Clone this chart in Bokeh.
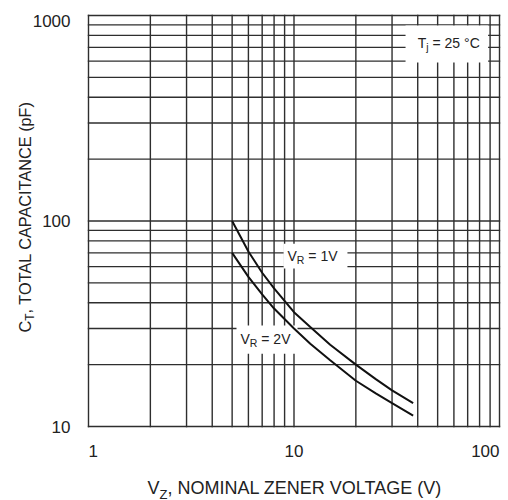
import math
from bokeh.plotting import figure
from bokeh.models import Label, BoxAnnotation, Range1d
from bokeh.embed import file_html
from bokeh.resources import INLINE

# ---------------- data ----------------
vz = [5, 6, 7, 8, 10, 12, 15, 20, 25, 30, 38]                       # V_Z (V)
ct_vr1 = [100, 71, 56, 47, 36, 30.5, 25, 20, 17, 15, 13]             # C_T (pF) at V_R = 1V
ct_vr2 = [70, 53.5, 44, 37.5, 30, 25.3, 21, 16.7, 14.5, 13, 11.3]    # C_T (pF) at V_R = 2V

x_major = [1, 10, 100]
x_minor = [2, 3, 4, 5, 6, 7, 8, 9, 20, 30, 40, 50, 60, 70, 80, 90]
x_tick_labels = ["1", "10", "100"]
y_major = [10, 100, 1000]
y_minor = [20, 30, 40, 50, 60, 70, 80, 90, 200, 300, 400, 500, 600, 700, 800, 900]
y_tick_labels = ["10", "100", "1000"]

# ---------------- layout / style ----------------
CW, CH = 508, 500                  # canvas
FL, FR, FT, FB = 88, 499, 15, 426  # plotting box inside the canvas (pixels)
FONT = "Liberation Sans"
TXT = "#222222"
GRID = "#2e2e2e"

# Arial / Liberation Sans advance widths (per 1000 em)
W = {' ': 278, ',': 278, '(': 333, ')': 333, '=': 584, '°': 400,
     'A': 667, 'C': 722, 'E': 667, 'F': 611, 'G': 778, 'I': 278, 'L': 556,
     'M': 833, 'N': 722, 'O': 778, 'P': 667, 'R': 722, 'T': 611, 'V': 667,
     'Z': 611, 'p': 556, 'j': 222}
for d in "0123456789":
    W[d] = 556


def tw(s, size):
    return sum(W.get(c, 600) for c in s) * size / 1000.0


# log scales whose decades map onto the plotting box; the frame fills the canvas
dx = (FR - FL) / math.log10(x_major[-1] / x_major[0])
dy = (FB - FT) / math.log10(y_major[-1] / y_major[0])
x_rng = Range1d(x_major[0] * 10 ** (-FL / dx), x_major[0] * 10 ** ((CW - FL) / dx))
y_rng = Range1d(y_major[0] * 10 ** (-(CH - FB) / dy), y_major[0] * 10 ** (FB / dy))

p = figure(width=CW, height=CH, x_axis_type="log", y_axis_type="log",
           x_range=x_rng, y_range=y_rng,
           x_axis_location=None, y_axis_location=None,
           output_backend="svg", toolbar_location=None,
           min_border_left=0, min_border_right=0, min_border_top=0, min_border_bottom=0)
p.title.visible = False
p.background_fill_color = "white"
p.border_fill_color = "white"
p.outline_line_color = None
p.xgrid.visible = False
p.ygrid.visible = False

# log grid (major + minor lines), drawn from the tick arrays
xs = x_major + x_minor
ys = y_major + y_minor
gx = p.segment(x0=xs, y0=[y_major[0]] * len(xs), x1=xs, y1=[y_major[-1]] * len(xs),
               line_color=GRID, line_width=1.4, line_cap="square")
gy = p.segment(x0=[x_major[0]] * len(ys), y0=ys, x1=[x_major[-1]] * len(ys), y1=ys,
               line_color=GRID, line_width=1.4, line_cap="square")
gx.level = "image"
gy.level = "image"

# white backgrounds behind in-plot labels (cover the grid, below the curves)
for l, r, b, t in [(34.9, 88.0, 590, 893), (8.9, 18.2, 58.8, 77.6), (5.25, 10.4, 22.6, 31.0)]:
    p.add_layout(BoxAnnotation(left=l, right=r, bottom=b, top=t, fill_color="white",
                               fill_alpha=1.0, line_color=None, level="underlay"))

p.line(vz, ct_vr1, line_color="#111111", line_width=2)
p.line(vz, ct_vr2, line_color="#111111", line_width=2)


def rich(parts, x, y, units="data", angle=0.0):
    """Text made of pieces (text, font size, subscript drop); (x, y) is the left/middle anchor."""
    adv = 0.0
    for text, size, drop in parts:
        lead = len(text) - len(text.lstrip(" "))
        adv += tw(" " * lead, size)
        body = text.lstrip(" ")
        if angle == 0.0:
            xo, yo = adv, -drop
        else:
            xo, yo = drop, adv
        p.add_layout(Label(x=x, y=y, x_units=units, y_units=units, x_offset=xo, y_offset=yo,
                           text=body, angle=angle, text_font=FONT,
                           text_font_size="%gpx" % size, text_color=TXT,
                           text_align="left", text_baseline="middle"))
        adv += tw(body, size)


# in-plot labels
rich([("T", 14, 0), ("j", 10.5, 4), (" = 25 °C", 14, 0)], 40.0, 731)
rich([("V", 14, 0), ("R", 10.5, 4), (" = 1V", 14, 0)], 9.3, 67.9)
rich([("V", 14, 0), ("R", 10.5, 4), (" = 2V", 14, 0)], 5.49, 26.8)

# x tick labels
for v, t, al in zip(x_major, x_tick_labels, ["left", "center", "right"]):
    p.add_layout(Label(x=v, y=y_major[0], y_offset=-24, text=t, text_font=FONT,
                       text_font_size="17px", text_color=TXT,
                       text_align=al, text_baseline="middle"))

# y tick labels
for v, t, dyo in zip(y_major, y_tick_labels, [0, 0, -5]):
    p.add_layout(Label(x=x_major[0], y=v, x_offset=-18, y_offset=dyo, text=t, text_font=FONT,
                       text_font_size="17px", text_color=TXT,
                       text_align="right", text_baseline="middle"))

# axis titles (screen units: pixels from the canvas' bottom-left corner)
rich([("V", 18, 0), ("Z", 13, 6.5), (", NOMINAL ZENER VOLTAGE (V)", 18, 0)],
     147, CH - 487, units="screen")
rich([("C", 16.3, 0), ("T", 12, 5), (", TOTAL CAPACITANCE (pF)", 16.3, 0)],
     24, CH - 332, units="screen", angle=math.pi / 2)

open("out.html", "w").write(file_html(p, INLINE))
